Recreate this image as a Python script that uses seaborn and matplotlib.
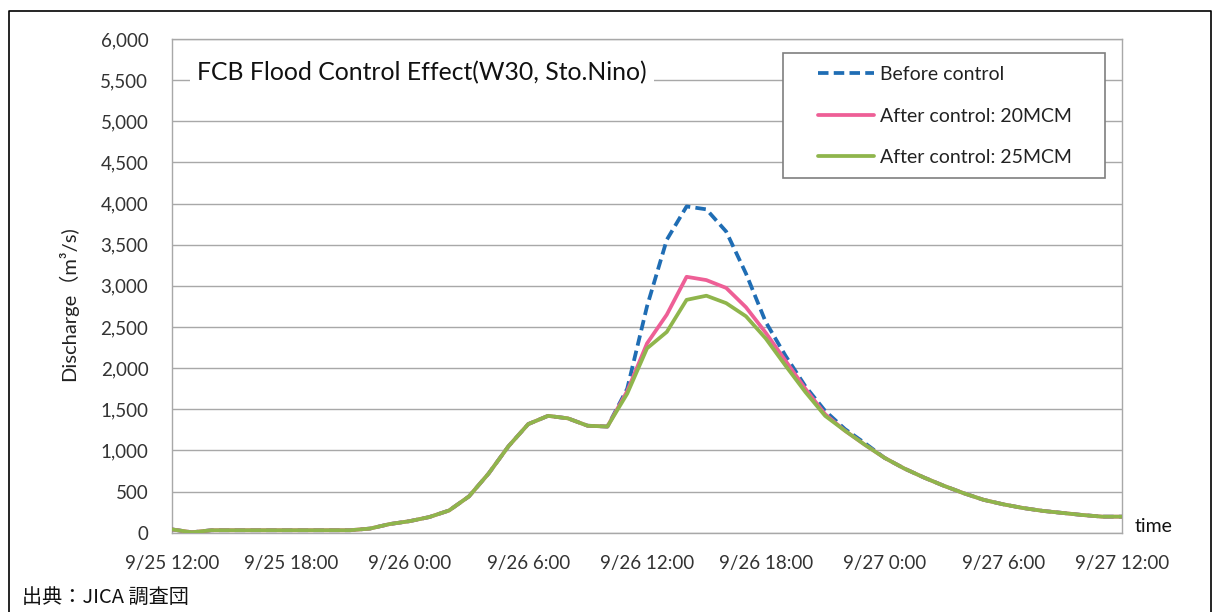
import matplotlib
matplotlib.use("Agg")
import matplotlib.pyplot as plt
import pandas as pd
import seaborn as sns
from matplotlib.lines import Line2D
from matplotlib.patches import Rectangle

# Hourly discharge at W30 (Sto.Nino), hours counted from 9/25 12:00
hours = list(range(49))
tick_hours = [0, 6, 12, 18, 24, 30, 36, 42, 48]
tick_labels = ["9/25 12:00", "9/25 18:00", "9/26 0:00", "9/26 6:00", "9/26 12:00",
               "9/26 18:00", "9/27 0:00", "9/27 6:00", "9/27 12:00"]
y_ticks = list(range(0, 6001, 500))

before_control = [40, 5, 30, 30, 30, 30, 30, 30, 30, 30,
                  50, 105, 140, 190, 270, 440, 720, 1050, 1320, 1420,
                  1390, 1300, 1290, 1750, 2750, 3560, 3965, 3930, 3660, 3150,
                  2560, 2150, 1780, 1480, 1260, 1090, 910, 780, 670, 570,
                  480, 400, 345, 300, 265, 240, 215, 195, 195]
after_20mcm = [40, 5, 30, 30, 30, 30, 30, 30, 30, 30,
               50, 105, 140, 190, 270, 440, 720, 1050, 1320, 1420,
               1390, 1300, 1290, 1720, 2300, 2650, 3110, 3070, 2975, 2740,
               2430, 2090, 1750, 1440, 1240, 1070, 910, 780, 670, 570,
               480, 400, 345, 300, 265, 240, 215, 195, 195]
after_25mcm = [40, 5, 30, 30, 30, 30, 30, 30, 30, 30,
               50, 105, 140, 190, 270, 440, 720, 1050, 1320, 1420,
               1390, 1300, 1290, 1690, 2240, 2440, 2830, 2880, 2790, 2630,
               2360, 2030, 1710, 1420, 1240, 1070, 910, 780, 670, 570,
               480, 400, 345, 300, 265, 240, 215, 195, 195]

series_names = ["Before control", "After control: 20MCM", "After control: 25MCM"]
series_values = [before_control, after_20mcm, after_25mcm]
colors = ["#1f6db4", "#ee5f96", "#8fb54c"]

sns.set_theme(style="white")
plt.rcParams["font.family"] = ["Lato", "Noto Sans CJK JP", "DejaVu Sans"]

W, H = 1218, 612
fig = plt.figure(figsize=(W / 100, H / 100), dpi=100)
ax = fig.add_axes([172 / W, 1 - 532.7 / H, 950 / W, 493.7 / H])

grid_col = "#a8a8a8"
text_col = "#333333"

for name, vals, col in zip(series_names, series_values, colors):
    df = pd.DataFrame({"hour": hours, "discharge": vals})
    style = dict(linestyle=(0, (2.8, 1.4))) if name == "Before control" else {}
    sns.lineplot(data=df, x="hour", y="discharge", ax=ax, color=col,
                 linewidth=2.7, label=name, zorder=3, **style)

ax.set_xlim(0, 48)
ax.set_ylim(0, 6000)
ax.set_xticks(tick_hours)
ax.set_xticklabels(tick_labels)
ax.set_yticks(y_ticks)
ax.set_yticklabels([f"{v:,}" for v in y_ticks])
ax.set_xlabel("")
ax.set_ylabel("Discharge（m³/s)", fontsize=14.5, color="#222222")
ax.yaxis.set_label_coords((78 - 172) / 950, (532.7 - 304) / 493.7)

ax.grid(axis="y", color=grid_col, linewidth=1.0)
ax.set_axisbelow(True)
for sp in ax.spines.values():
    sp.set_color(grid_col)
    sp.set_linewidth(1.0)
ax.tick_params(axis="both", direction="out", length=5, width=1.0, color=grid_col,
               labelsize=13.5, labelcolor=text_col)
ax.tick_params(axis="y", pad=12)
ax.tick_params(axis="x", pad=11)

# Chart title box
ax.text(25 / 950, 0.931, "FCB Flood Control Effect(W30, Sto.Nino)", transform=ax.transAxes,
        fontsize=17.8, color="#111111", ha="left", va="center", zorder=6,
        bbox=dict(boxstyle="square,pad=0.3", facecolor="white", edgecolor="none"))

# Legend with a plain rectangular frame
leg_x0, leg_x1 = (783 - 172) / 950, (1105 - 172) / 950
leg_y0, leg_y1 = (532.7 - 178) / 493.7, (532.7 - 53) / 493.7
ax.add_patch(Rectangle((leg_x0, leg_y0), leg_x1 - leg_x0, leg_y1 - leg_y0,
                       transform=ax.transAxes, facecolor="white", edgecolor="#7f7f7f",
                       linewidth=1.2, zorder=5))
leg = ax.legend(loc="upper left", bbox_to_anchor=((818 - 172) / 950, (532.7 - 66) / 493.7),
                frameon=False, fontsize=14, handlelength=2.9, handletextpad=0.3,
                labelspacing=1.26, borderpad=0.0, borderaxespad=0.0)
leg.set_zorder(6)
for t in leg.get_texts():
    t.set_color("#222222")

ax.text((1135 - 172) / 950, 0.012, "time", transform=ax.transAxes, fontsize=14,
        color="#111111", ha="left", va="center")

# Outer frame and source note
fig.add_artist(Line2D([8.5 / W, 8.5 / W, 1210.5 / W, 1210.5 / W],
                      [0, 1 - 10.5 / H, 1 - 10.5 / H, 0],
                      transform=fig.transFigure, color="black", linewidth=1.2))
fig.text(22 / W, 1 - 598 / H, "出典：JICA 調査団", fontsize=14.5,
         family=["Noto Sans CJK JP"], color="#111111", ha="left", va="center")

fig.savefig("out.png", dpi=100, facecolor="white")
